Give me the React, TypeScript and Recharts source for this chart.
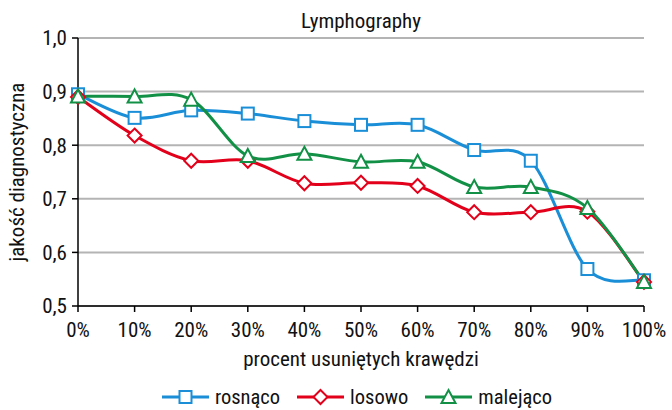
import { CartesianGrid, Line, LineChart, XAxis, YAxis } from "recharts";

// share of removed edges, %
const removedPct = [0, 10, 20, 30, 40, 50, 60, 70, 80, 90, 100];

const rosnaco = [0.895, 0.851, 0.865, 0.859, 0.845, 0.838, 0.838, 0.791, 0.771, 0.569, 0.548];
const losowo = [0.89, 0.818, 0.771, 0.771, 0.729, 0.73, 0.724, 0.675, 0.675, 0.676, 0.545];
const malejaco = [0.891, 0.891, 0.885, 0.78, 0.784, 0.769, 0.769, 0.722, 0.722, 0.683, 0.545];

const yTicks = [0.5, 0.6, 0.7, 0.8, 0.9, 1.0];

const BLUE = "#1A8FD8";
const RED = "#E2001A";
const GREEN = "#129146";
const FONT = '"Roboto Condensed", "Liberation Sans Narrow", "DejaVu Sans Condensed", Roboto, sans-serif';
const FS = 21;

const data = removedPct.map((x, i) => ({
  x,
  rosnaco: rosnaco[i],
  losowo: losowo[i],
  malejaco: malejaco[i],
}));

// Excel-style smoothed line: Catmull-Rom segments as cubic beziers
function smoothCurve(context: any) {
  let pts: [number, number][] = [];
  return {
    areaStart() {},
    areaEnd() {},
    lineStart() {
      pts = [];
    },
    lineEnd() {
      if (!pts.length) return;
      context.moveTo(pts[0][0], pts[0][1]);
      for (let i = 0; i < pts.length - 1; i++) {
        const p0 = pts[i - 1] || pts[i];
        const p1 = pts[i];
        const p2 = pts[i + 1];
        const p3 = pts[i + 2] || p2;
        context.bezierCurveTo(
          p1[0] + (p2[0] - p0[0]) / 6,
          p1[1] + (p2[1] - p0[1]) / 6,
          p2[0] - (p3[0] - p1[0]) / 6,
          p2[1] - (p3[1] - p1[1]) / 6,
          p2[0],
          p2[1]
        );
      }
    },
    point(x: number, y: number) {
      pts.push([+x, +y]);
    },
  };
}

type Shape = "square" | "diamond" | "triangle";

function Marker({ cx, cy, shape, color }: { cx: number; cy: number; shape: Shape; color: string }) {
  if (cx == null || cy == null) return null;
  const common = { fill: "#fff", stroke: color, strokeWidth: 2 };
  if (shape === "square") return <rect x={cx - 6} y={cy - 6} width={12} height={12} {...common} />;
  if (shape === "diamond")
    return <polygon points={`${cx},${cy - 7} ${cx + 7},${cy} ${cx},${cy + 7} ${cx - 7},${cy}`} {...common} />;
  return <polygon points={`${cx},${cy - 7} ${cx + 7},${cy + 6} ${cx - 7},${cy + 6}`} {...common} />;
}

const series: { key: string; name: string; color: string; shape: Shape }[] = [
  { key: "rosnaco", name: "rosnąco", color: BLUE, shape: "square" },
  { key: "losowo", name: "losowo", color: RED, shape: "diamond" },
  { key: "malejaco", name: "malejąco", color: GREEN, shape: "triangle" },
];

function ChartLegend() {
  return (
    <div
      style={{
        position: "absolute",
        top: 385,
        left: 0,
        width: 714,
        display: "flex",
        justifyContent: "center",
        fontFamily: FONT,
        fontSize: 20.5,
        lineHeight: "24px",
        color: "#111",
      }}
    >
      {series.map((s, i) => (
        <div key={s.key} style={{ display: "flex", alignItems: "center", marginLeft: i ? 17 : 0 }}>
          <svg width={47} height={24}>
            <line x1={0} y1={12} x2={47} y2={12} stroke={s.color} strokeWidth={3} />
            <Marker cx={23.5} cy={12} shape={s.shape} color={s.color} />
          </svg>
          <span style={{ marginLeft: 6 }}>{s.name}</span>
        </div>
      ))}
    </div>
  );
}

const fmtY = (v: number) => v.toFixed(1).replace(".", ",");

export default function App() {
  return (
    <div style={{ position: "absolute", left: 0, top: 0, width: 672, height: 410, background: "#fff", overflow: "hidden" }}>
      <div
        style={{
          position: "absolute",
          top: 9,
          left: 0,
          width: 722,
          textAlign: "center",
          fontFamily: FONT,
          fontSize: FS,
          lineHeight: "24px",
          color: "#111",
        }}
      >
        Lymphography
      </div>
      <LineChart width={672} height={410} data={data} margin={{ top: 38, right: 28, bottom: 44, left: 0 }}>
        <CartesianGrid stroke="#b4b4b4" strokeWidth={2} vertical={false} />
        <XAxis
          dataKey="x"
          type="number"
          domain={[0, 100]}
          ticks={removedPct}
          tickFormatter={(v) => `${v}%`}
          height={60}
          stroke="#000"
          strokeWidth={1.5}
          tickSize={6}
          tickMargin={10}
          tick={{ fill: "#111", fontSize: FS, fontFamily: FONT }}
          label={{
            value: "procent usuniętych krawędzi",
            position: "insideBottom",
            offset: 0,
            fill: "#111",
            fontSize: FS,
            fontFamily: FONT,
          }}
        />
        <YAxis
          width={78}
          domain={[0.5, 1.0]}
          ticks={yTicks}
          tickFormatter={fmtY}
          stroke="#000"
          strokeWidth={1.5}
          tickSize={6}
          tickMargin={5}
          tick={{ fill: "#111", fontSize: FS, fontFamily: FONT }}
          label={{
            value: "jakość diagnostyczna",
            angle: -90,
            position: "insideLeft",
            offset: 17,
            style: { textAnchor: "middle" },
            fill: "#111",
            fontSize: FS,
            fontFamily: FONT,
          }}
        />
        {series.map((s) => (
          <Line
            key={s.key}
            dataKey={s.key}
            name={s.name}
            type={smoothCurve as any}
            stroke={s.color}
            strokeWidth={3}
            isAnimationActive={false}
            dot={(p: any) => <Marker key={`${s.key}-${p.index}`} cx={p.cx} cy={p.cy} shape={s.shape} color={s.color} />}
          />
        ))}
      </LineChart>
      <ChartLegend />
    </div>
  );
}
